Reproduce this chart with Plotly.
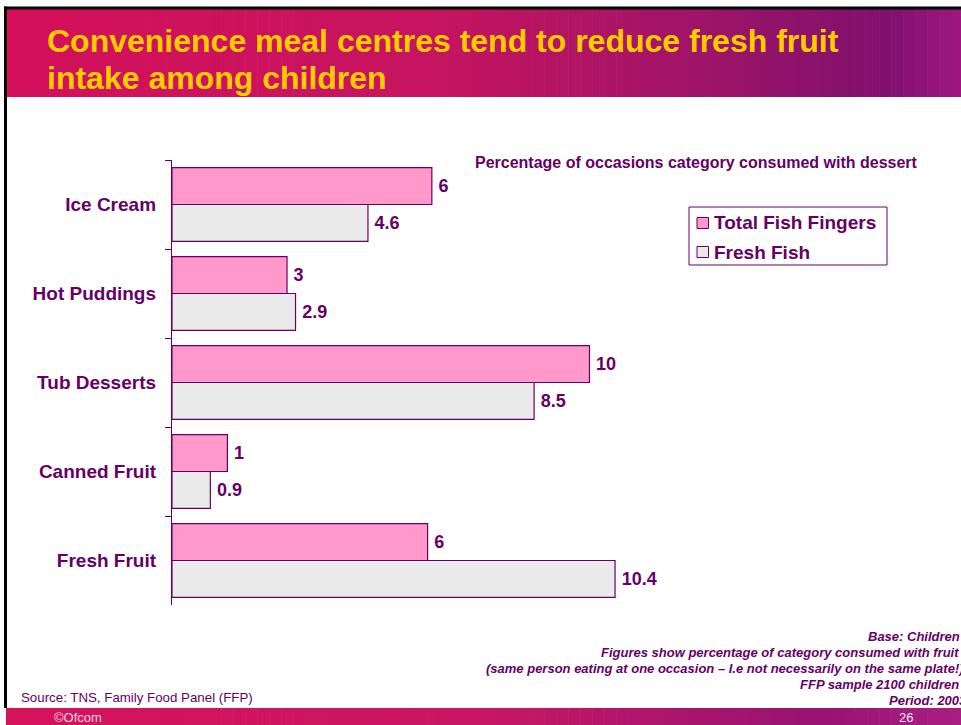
import plotly.graph_objects as go

# ---- data ----
categories = ["Ice Cream", "Hot Puddings", "Tub Desserts", "Canned Fruit", "Fresh Fruit"]
series_names = ["Total Fish Fingers", "Fresh Fish"]
fish_fingers = [6.1, 2.7, 9.8, 1.3, 6.0]
fish_fingers_labels = ["6", "3", "10", "1", "6"]
fresh_fish = [4.6, 2.9, 8.5, 0.9, 10.4]
fresh_fish_labels = ["4.6", "2.9", "8.5", "0.9", "10.4"]
series_colors = ["#FF99CC", "#EAEAEA"]

title_lines = ["Convenience meal centres tend to reduce fresh fruit", "intake among children"]
chart_note = "Percentage of occasions category consumed with dessert"
foot_notes = [
    "Base: Children",
    "Figures show percentage of category consumed with fruit",
    "(same person eating at one occasion \u2013 I.e not necessarily on the same plate!)",
    "FFP sample 2100 children",
    "Period: 2003",
]
source_text = "Source: TNS, Family Food Panel (FFP)"

# ---- layout geometry (page pixels) ----
W, H = 961, 725
PL, PR, PT, PB = 172, 939, 160, 605      # plot area in page pixels
PW, PH = PR - PL, PB - PT
PURPLE = "#660066"
FONT = "Liberation Sans, Arial, sans-serif"


def px(x):
    return (x - PL) / PW


def py(y):
    return (PB - y) / PH


fig = go.Figure()
fig.add_trace(go.Bar(
    y=categories, x=fish_fingers, orientation="h", name=series_names[0],
    marker=dict(color=series_colors[0], line=dict(color=PURPLE, width=1.2)),
    text=fish_fingers_labels, texttemplate="\u2009%{text}", textposition="outside", cliponaxis=False,
    textfont=dict(family=FONT, size=18, color=PURPLE, weight="bold"),
))
fig.add_trace(go.Bar(
    y=categories, x=fresh_fish, orientation="h", name=series_names[1],
    marker=dict(color=series_colors[1], line=dict(color=PURPLE, width=1.2)),
    text=fresh_fish_labels, texttemplate="\u2009%{text}", textposition="outside", cliponaxis=False,
    textfont=dict(family=FONT, size=18, color=PURPLE, weight="bold"),
))

shapes = []


def gradient(x0, x1, y0, y1, stops, n=80):
    for i in range(n):
        t = (i + 0.5) / n
        for j in range(len(stops) - 1):
            if stops[j][0] <= t <= stops[j + 1][0]:
                a, b = stops[j], stops[j + 1]
                f = (t - a[0]) / (b[0] - a[0])
                c = [round(a[1][k] + (b[1][k] - a[1][k]) * f) for k in range(3)]
                break
        xa = x0 + (x1 - x0) * i / n
        xb = x0 + (x1 - x0) * (i + 1) / n + 0.6
        shapes.append(dict(type="rect", xref="paper", yref="paper",
                           x0=px(xa), x1=px(xb), y0=py(y1), y1=py(y0),
                           fillcolor="rgb(%d,%d,%d)" % tuple(c), line=dict(width=0), layer="below"))


header_stops = [(0.0, (212, 16, 90)), (0.45, (198, 20, 96)), (0.75, (155, 20, 105)),
                (0.92, (128, 16, 110)), (1.0, (160, 22, 130))]
gradient(6, W + 2, 9, 97, header_stops)
footer_stops = [(0.0, (214, 18, 90)), (0.5, (200, 22, 100)), (0.85, (150, 20, 115)), (1.0, (170, 30, 130))]
gradient(6, W + 2, 708, H + 2, footer_stops)

# black borders
shapes.append(dict(type="rect", xref="paper", yref="paper", x0=px(4), x1=px(W + 2), y0=py(9.5), y1=py(6.5),
                   fillcolor="black", line=dict(width=0)))
shapes.append(dict(type="rect", xref="paper", yref="paper", x0=px(4), x1=px(7), y0=py(708), y1=py(6.5),
                   fillcolor="black", line=dict(width=0)))

# legend box (drawn manually to match the original layout)
shapes.append(dict(type="rect", xref="paper", yref="paper", x0=px(689), x1=px(887), y0=py(265), y1=py(207),
                   fillcolor="white", line=dict(color=PURPLE, width=1)))
legend_rows = [223, 252]
for name, col, ry in zip(series_names, series_colors, legend_rows):
    shapes.append(dict(type="rect", xref="paper", yref="paper", x0=px(697), x1=px(708.5),
                       y0=py(ry + 5.5), y1=py(ry - 5.5),
                       fillcolor=col, line=dict(color=PURPLE, width=1)))

annotations = []
for name, ry in zip(series_names, legend_rows):
    annotations.append(dict(text=name, xref="paper", yref="paper", x=px(712), y=py(ry),
                            xanchor="left", yanchor="middle", showarrow=False,
                            font=dict(family=FONT, size=19, color=PURPLE, weight="bold")))
for i, line in enumerate(title_lines):
    annotations.append(dict(text=line, xref="paper", yref="paper", x=px(45), y=py(41 + i * 37),
                            xanchor="left", yanchor="middle", showarrow=False,
                            font=dict(family=FONT, size=32, color="#FFCC00", weight="bold")))
annotations.append(dict(text=chart_note, xref="paper", yref="paper", x=px(473), y=py(163),
                        xanchor="left", yanchor="middle", showarrow=False,
                        font=dict(family=FONT, size=16, color=PURPLE, weight="bold")))
foot_right = [962, 961, 966, 961, 969]
for i, (line, xr) in enumerate(zip(foot_notes, foot_right)):
    annotations.append(dict(text=line, xref="paper", yref="paper", x=px(xr), y=py(636 + i * 16),
                            xanchor="right", yanchor="middle", showarrow=False,
                            font=dict(family=FONT, size=13, color=PURPLE, weight="bold", style="italic")))
annotations.append(dict(text=source_text, xref="paper", yref="paper", x=px(19), y=py(697),
                        xanchor="left", yanchor="middle", showarrow=False,
                        font=dict(family=FONT, size=13.3, color=PURPLE)))
annotations.append(dict(text="\u00a9Ofcom", xref="paper", yref="paper", x=px(52), y=py(717),
                        xanchor="left", yanchor="middle", showarrow=False,
                        font=dict(family=FONT, size=13, color="#F4D8E8")))
annotations.append(dict(text="26", xref="paper", yref="paper", x=px(897), y=py(717),
                        xanchor="left", yanchor="middle", showarrow=False,
                        font=dict(family=FONT, size=13, color="#F4E8F0")))

fig.update_layout(
    width=W, height=H,
    margin=dict(l=PL, r=W - PR, t=PT, b=H - PB, autoexpand=False),
    paper_bgcolor="white", plot_bgcolor="white",
    barmode="group", bargap=0.17, bargroupgap=0,
    font=dict(family=FONT, color=PURPLE),
    showlegend=False,
    hovermode=False,
    xaxis=dict(visible=False, range=[0, PW / 42.6]),
    yaxis=dict(autorange="reversed", showline=True, linecolor=PURPLE, linewidth=1.3,
               ticks="outside", tickson="boundaries", ticklen=6, tickcolor=PURPLE, tickwidth=1.3,
               tickfont=dict(family=FONT, size=19, color=PURPLE, weight="bold"),
               showgrid=False, zeroline=False, ticklabelstandoff=11),
    shapes=shapes,
    annotations=annotations,
)

fig.write_html("out.html", config={"displayModeBar": False},
               post_script="document.body.style.margin='0';document.body.style.overflow='hidden';")
